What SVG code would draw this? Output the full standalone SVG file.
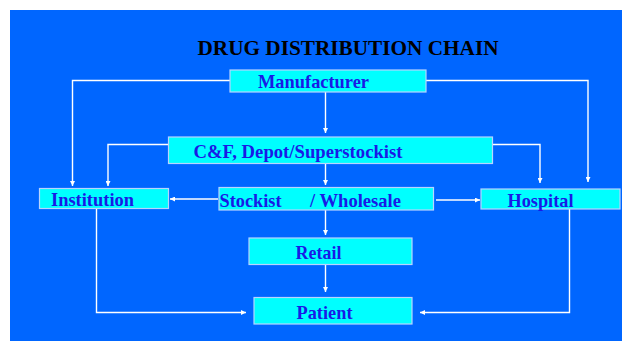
<svg xmlns="http://www.w3.org/2000/svg" width="622" height="341" viewBox="0 0 622 341">
<style>
.box{fill:#00ffff;stroke:#b8d4ff;stroke-width:1.2}
.lbl{font-family:"Liberation Serif","Times New Roman",serif;font-weight:bold;font-size:19px;fill:#1a1ae6}
.title{font-family:"Liberation Serif","Times New Roman",serif;font-weight:bold;font-size:20px;fill:#000}
.con{fill:none;stroke:#ffffff;stroke-width:1.4}
</style>
<defs>
<marker id="ah" viewBox="0 0 8 8" refX="8" refY="4" markerWidth="5" markerHeight="5" markerUnits="userSpaceOnUse" orient="auto">
<path d="M0,0 L8,4 L0,8 z" fill="#ffffff"/>
</marker>
</defs>
<rect x="0" y="0" width="622" height="341" fill="#ffffff"/>
<rect x="10" y="10" width="612" height="331" fill="#0066ff"/>
<text class="title" x="197.5" y="55" textLength="301" lengthAdjust="spacingAndGlyphs">DRUG DISTRIBUTION CHAIN</text>
<g id="connectors">
<path class="con" d="M230,80.5 H72.5 V186" marker-end="url(#ah)"/>
<path class="con" d="M426,80.5 H588 V182" marker-end="url(#ah)"/>
<path class="con" d="M325.5,92 V133" marker-end="url(#ah)"/>
<path class="con" d="M168.5,144.5 H108 V186" marker-end="url(#ah)"/>
<path class="con" d="M492.5,144.5 H540 V183" marker-end="url(#ah)"/>
<path class="con" d="M325.5,163.5 V185" marker-end="url(#ah)"/>
<path class="con" d="M218,199 H170" marker-end="url(#ah)"/>
<path class="con" d="M436,200 H480" marker-end="url(#ah)"/>
<path class="con" d="M325.5,210 V235" marker-end="url(#ah)"/>
<path class="con" d="M325.5,264.5 V292" marker-end="url(#ah)"/>
<path class="con" d="M96.5,209 V312.5 H246" marker-end="url(#ah)"/>
<path class="con" d="M569.5,209 V312.5 H420" marker-end="url(#ah)"/>
</g>
<g id="manufacturer">
<rect class="box" x="230" y="70" width="196" height="22"/>
<text class="lbl" x="258" y="88" textLength="111" lengthAdjust="spacingAndGlyphs">Manufacturer</text>
</g>
<g id="cf-depot">
<rect class="box" x="168.5" y="137" width="324" height="26.5"/>
<text class="lbl" x="193.5" y="158" textLength="209" lengthAdjust="spacingAndGlyphs">C&amp;F, Depot/Superstockist</text>
</g>
<g id="institution">
<rect class="box" x="39.5" y="188.5" width="129" height="20"/>
<text class="lbl" x="51" y="206" textLength="83" lengthAdjust="spacingAndGlyphs">Institution</text>
</g>
<g id="stockist">
<rect class="box" x="219" y="187.5" width="214.5" height="22.5"/>
<text class="lbl" y="206.5"><tspan x="219.5" textLength="62" lengthAdjust="spacingAndGlyphs">Stockist</tspan><tspan x="310" textLength="91" lengthAdjust="spacingAndGlyphs">/ Wholesale</tspan></text>
</g>
<g id="hospital">
<rect class="box" x="481" y="189" width="139" height="20"/>
<text class="lbl" x="507.5" y="206.5" textLength="66" lengthAdjust="spacingAndGlyphs">Hospital</text>
</g>
<g id="retail">
<rect class="box" x="249" y="238" width="163" height="26.5"/>
<text class="lbl" x="295.5" y="259" textLength="46" lengthAdjust="spacingAndGlyphs">Retail</text>
</g>
<g id="patient">
<rect class="box" x="254" y="297.5" width="158" height="26.5"/>
<text class="lbl" x="296.5" y="319" textLength="56" lengthAdjust="spacingAndGlyphs">Patient</text>
</g>
</svg>
